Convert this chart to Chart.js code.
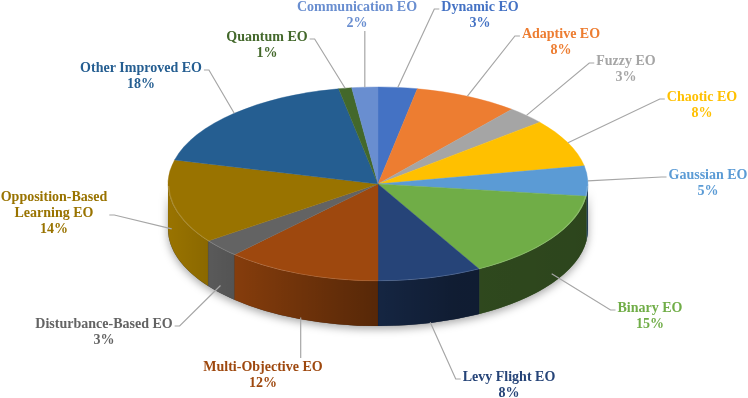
<!DOCTYPE html>
<html>
<head>
<meta charset="utf-8">
<script src="https://cdn.jsdelivr.net/npm/chart.js@4.4.1/dist/chart.umd.min.js"></script>
<style>
  body { margin: 0; background: #fff; }
  canvas { display: block; }
</style>
</head>
<body>
<canvas id="pie" width="748" height="398"></canvas>
<script>
// data, in the order the slices go round (clockwise from 12 o'clock)
const categories = ['Dynamic EO', 'Adaptive EO', 'Fuzzy EO', 'Chaotic EO', 'Gaussian EO', 'Binary EO',
  'Levy Flight EO', 'Multi-Objective EO', 'Disturbance-Based EO', 'Opposition-Based Learning EO',
  'Other Improved EO', 'Quantum EO', 'Communication EO'];
const shares = [3, 8, 3, 8, 5, 15, 8, 12, 3, 14, 18, 1, 2];

// Excel office palette
const colors = ['#4472C4', '#ED7D31', '#A5A5A5', '#FFC000', '#5B9BD5', '#70AD47',
  '#264478', '#9E480E', '#636363', '#997300', '#255E91', '#43682B', '#698ED0'];

// where the data labels sit (centre x, first line y)
const labelAt = [[480, 7], [561, 34], [626, 61], [702, 97], [708, 175], [650, 308],
  [509, 377], [263, 367], [104, 324], [54, 197], [141, 68], [267, 37], [357, 7]];

// the pie is drawn as a circle and squashed onto this ellipse
const TX = 378, TY = 184, RX = 210, RY = 97, DEPTH = 45;
const FONT = 'bold 14px "Liberation Serif", "Times New Roman", serif';
const LINE_H = 16;

function wrap(ctx, text, maxW) {
  const words = text.split(' ');
  const lines = [];
  let cur = '';
  words.forEach(w => {
    const t = cur ? cur + ' ' + w : w;
    if (cur && ctx.measureText(t).width > maxW) {
      lines.push(cur);
      cur = w;
    } else {
      cur = t;
    }
  });
  lines.push(cur);
  return lines;
}

const pie3d = {
  id: 'pie3d',
  beforeDatasetsDraw(chart) {
    const ctx = chart.ctx;
    const arcs = chart.getDatasetMeta(0).data;
    const a0 = arcs[0];
    const cx = a0.x, cy = a0.y, r = a0.outerRadius;
    const sy = RY / r;
    const D = DEPTH / sy;

    ctx.save();
    ctx.translate(TX, TY);
    ctx.scale(RX / r, RY / r);
    ctx.translate(-cx, -cy);

    // shadow under the whole front wall
    ctx.save();
    ctx.shadowColor = 'rgba(0,0,0,0.35)';
    ctx.shadowBlur = 9;
    ctx.shadowOffsetY = 3;
    ctx.beginPath();
    ctx.arc(cx, cy, r, 0, Math.PI);
    ctx.lineTo(cx - r, cy + D);
    ctx.arc(cx, cy + D, r, Math.PI, 0, true);
    ctx.closePath();
    ctx.fillStyle = '#555';
    ctx.fill();
    ctx.restore();

    // side walls of the slices that face us
    const shade = ctx.createLinearGradient(cx - r, 0, cx + r, 0);
    shade.addColorStop(0, 'rgba(0,0,0,0)');
    shade.addColorStop(0.15, 'rgba(0,0,0,0.15)');
    shade.addColorStop(0.32, 'rgba(0,0,0,0.3)');
    shade.addColorStop(0.5, 'rgba(0,0,0,0.45)');
    shade.addColorStop(0.68, 'rgba(0,0,0,0.58)');
    shade.addColorStop(1, 'rgba(0,0,0,0.6)');

    arcs.forEach((arc, i) => {
      const s = Math.max(arc.startAngle, 0);
      const e = Math.min(arc.endAngle, Math.PI);
      if (s >= e) return;
      ctx.beginPath();
      ctx.arc(cx, cy, r, s, e);
      ctx.lineTo(cx + r * Math.cos(e), cy + r * Math.sin(e) + D);
      ctx.arc(cx, cy + D, r, e, s, true);
      ctx.closePath();
      ctx.fillStyle = colors[i];
      ctx.fill();
      ctx.fillStyle = shade;
      ctx.fill();
      ctx.strokeStyle = 'rgba(0,0,0,0.15)';
      ctx.lineWidth = 0.5;
      ctx.stroke();
    });
    // keep the transform on for the top faces
  },
  afterDatasetsDraw(chart) {
    const ctx = chart.ctx;
    const arcs = chart.getDatasetMeta(0).data;
    const cx = arcs[0].x, cy = arcs[0].y, r = arcs[0].outerRadius;

    // light rim along the front edge
    ctx.beginPath();
    ctx.arc(cx, cy, r - 0.5, 0.02, Math.PI - 0.02);
    ctx.strokeStyle = 'rgba(255,255,255,0.18)';
    ctx.lineWidth = 1.2;
    ctx.stroke();
    ctx.restore();

    // data labels with leader lines
    ctx.save();
    ctx.font = FONT;
    ctx.textAlign = 'center';
    ctx.textBaseline = 'middle';
    arcs.forEach((arc, i) => {
      const mid = (arc.startAngle + arc.endAngle) / 2;
      let px = TX + RX * Math.cos(mid);
      let py = TY + RY * Math.sin(mid);
      if (Math.sin(mid) > 0) py += DEPTH * (0.5 + 0.5 * Math.sin(mid));

      const lines = wrap(ctx, categories[i], 150).concat([shares[i] + '%']);
      const [lx, ly] = labelAt[i];
      const w = Math.max(...lines.map(t => ctx.measureText(t).width));
      const left = lx - w / 2, right = lx + w / 2;
      const top = ly - 9, bottom = ly + (lines.length - 1) * LINE_H + 8;
      const jy = ly + Math.floor((lines.length - 1) / 2) * LINE_H + 2;

      ctx.beginPath();
      ctx.moveTo(px, py);
      if (px < left - 2) {
        ctx.lineTo(left - 7, jy);
        ctx.lineTo(left - 2, jy);
      } else if (px > right + 2) {
        ctx.lineTo(right + 7, jy);
        ctx.lineTo(right + 2, jy);
      } else if (py > bottom) {
        ctx.lineTo(px, bottom);
      } else {
        ctx.lineTo(px, top);
      }
      ctx.strokeStyle = '#A6A6A6';
      ctx.lineWidth = 1.2;
      ctx.stroke();

      ctx.fillStyle = colors[i];
      lines.forEach((t, k) => ctx.fillText(t, lx, ly + k * LINE_H));
    });
    ctx.restore();
  }
};

new Chart(document.getElementById('pie'), {
  type: 'pie',
  data: {
    labels: categories,
    datasets: [{
      data: shares,
      backgroundColor: colors,
      borderColor: colors,
      borderWidth: 0.5,
      clip: false
    }]
  },
  options: {
    responsive: false,
    animation: false,
    events: [],
    layout: { padding: 10 },
    plugins: {
      legend: { display: false },
      tooltip: { enabled: false }
    }
  },
  plugins: [pie3d]
});
</script>
</body>
</html>
